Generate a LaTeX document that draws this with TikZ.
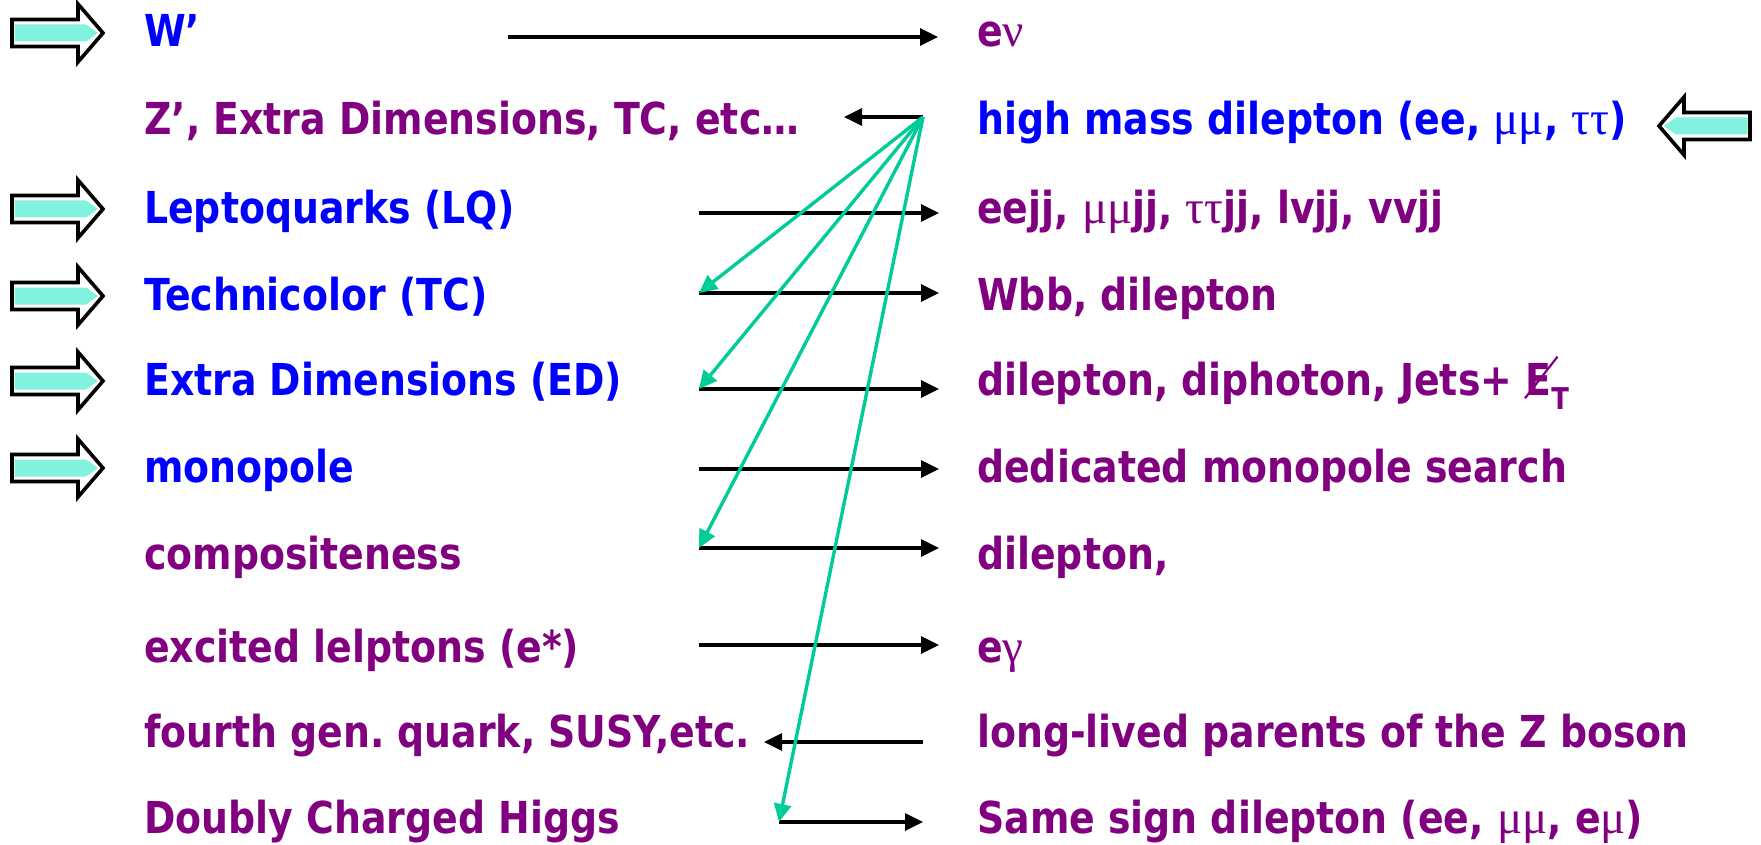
\documentclass[tikz,border=0pt]{standalone}
\usepackage{fontspec}
\usetikzlibrary{arrows.meta}
\newfontfamily\tah[FakeStretch=0.86]{DejaVu Sans}
\newfontfamily\grk{Liberation Serif}
\definecolor{tblue}{RGB}{0,0,255}
\definecolor{tpurp}{RGB}{128,0,128}
\definecolor{tgreen}{RGB}{0,204,153}
\definecolor{aqua}{RGB}{128,242,222}
\frenchspacing
\newcommand{\gk}[1]{{\grk\mdseries\fontsize{47}{47}\selectfont #1}}
\newcommand{\slE}{\makebox[0pt][l]{\hspace{-0.03em}\raisebox{-0.09em}{\rotatebox{52}{\rule{1.2em}{0.05em}}}}E\raisebox{-0.32em}{\fontsize{30}{30}\selectfont T}}
\tikzset{
  lab/.style={anchor=base west, inner sep=0pt, font=\tah\bfseries\fontsize{44}{50}\selectfont},
  blu/.style={lab, text=tblue},
  pur/.style={lab, text=tpurp},
  blk/.style={draw=black, line width=3.4pt, -{Triangle[length=18pt,width=17pt]}},
  grn/.style={draw=tgreen, line width=3.4pt, -{Triangle[length=18pt,width=17pt]}},
  blockarr/.pic={
    \path[fill=white, draw=black, line width=3.6pt, line join=miter]
      (0,-13.5) -- (66,-13.5) -- (66,-29) -- (91,0) -- (66,29) -- (66,13.5) -- (0,13.5) -- cycle;
    \fill[aqua] (2.5,-8.5) -- (74,-8.5) -- (86,0) -- (74,8.5) -- (2.5,8.5) -- cycle;
  }
}
\begin{document}
\begin{tikzpicture}[x=1pt, y=-1pt]
\useasboundingbox (0,0) rectangle (1761,845);
% block arrows
\pic at (12,33) {blockarr};
\pic at (12,209) {blockarr};
\pic at (12,296) {blockarr};
\pic at (12,381) {blockarr};
\pic at (12,468) {blockarr};
\pic[rotate=180] at (1750,126) {blockarr};
% left column
\node[blu] (l1) at (144,47) {W’};
\node[pur] (l2) at (144,135) {Z’, Extra Dimensions, TC, etc…};
\node[blu] (l3) at (144,223) {Leptoquarks (LQ)};
\node[blu] (l4) at (144,310) {Technicolor (TC)};
\node[blu] (l5) at (144,395) {Extra Dimensions (ED)};
\node[blu] (l6) at (144,482) {monopole};
\node[pur] (l7) at (144,569) {compositeness};
\node[pur] (l8) at (144,662) {excited lelptons (e*)};
\node[pur] (l9) at (144,747) {fourth gen. quark, SUSY,etc.};
\node[pur] (l10) at (144,833) {Doubly Charged Higgs};
% right column
\node[pur] (r1) at (977,47) {e\gk{ν}};
\node[blu] (r2) at (977,135) {high mass dilepton (ee, \gk{μμ}, \gk{ττ})};
\node[pur] (r3) at (977,223) {eejj, \gk{μμ}jj, \gk{ττ}jj, lvjj, vvjj};
\node[pur] (r4) at (977,310) {Wbb, dilepton};
\node[pur] (r5) at (977,395) {dilepton, diphoton, Jets+ \slE};
\node[pur] (r6) at (977,482) {dedicated monopole search};
\node[pur] (r7) at (977,569) {dilepton,};
\node[pur] (r8) at (977,662) {e\gk{γ}};
\node[pur] (r9) at (977,747) {long-lived parents of the Z boson};
\node[pur] (r10) at (977,833) {Same sign dilepton (ee, \gk{μμ}, e\gk{μ})};
% arrow end points
\coordinate (hub) at (923,117);
\coordinate (a1s) at (508,37);  \coordinate (a1e) at (938,37);
\coordinate (a2e) at (844,117);
\coordinate (a3s) at (699,213); \coordinate (a3e) at (939,213);
\coordinate (a4s) at (699,293); \coordinate (a4e) at (939,293);
\coordinate (a5s) at (699,389); \coordinate (a5e) at (939,389);
\coordinate (a6s) at (699,469); \coordinate (a6e) at (939,469);
\coordinate (a7s) at (699,548); \coordinate (a7e) at (939,548);
\coordinate (a8s) at (699,645); \coordinate (a8e) at (939,645);
\coordinate (a9s) at (923,742); \coordinate (a9e) at (764,742);
\coordinate (a10s) at (779,822); \coordinate (a10e) at (923,822);
% black arrows
\draw[blk] (a1s) -- (a1e);
\draw[blk] (hub) -- (a2e);
\draw[blk] (a3s) -- (a3e);
\draw[blk] (a4s) -- (a4e);
\draw[blk] (a5s) -- (a5e);
\draw[blk] (a6s) -- (a6e);
\draw[blk] (a7s) -- (a7e);
\draw[blk] (a8s) -- (a8e);
\draw[blk] (a9s) -- (a9e);
\draw[blk] (a10s) -- (a10e);
% green arrows
\draw[grn] (hub) -- (a4s);
\draw[grn] (hub) -- (a5s);
\draw[grn] (hub) -- (a7s);
\draw[grn] (hub) -- (a10s);
\end{tikzpicture}
\end{document}
